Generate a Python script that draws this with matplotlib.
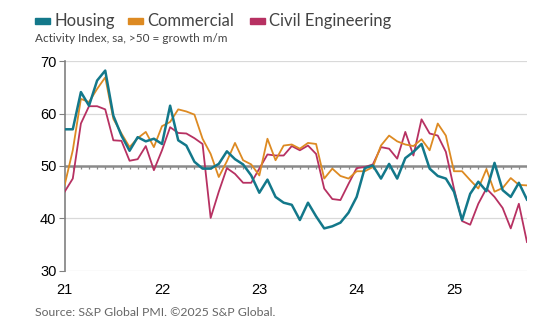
import matplotlib
matplotlib.use("Agg")
import matplotlib.pyplot as plt
from matplotlib.patches import Rectangle
import numpy as np

# monthly readings, Jan 2021 - Oct 2025
housing = [57.0, 57.0, 64.1, 61.5, 66.3, 68.2, 59.6, 55.8, 52.9, 55.5, 54.7, 55.2,
           54.2, 61.5, 54.9, 53.9, 50.8, 49.5, 49.5, 50.4, 52.8, 51.3, 50.3, 48.2,
           44.9, 47.4, 44.1, 43.0, 42.6, 39.7, 43.0, 40.4, 38.1, 38.5, 39.2, 41.1,
           44.1, 49.6, 50.1, 47.6, 50.4, 47.6, 51.5, 52.7, 54.2, 49.5, 48.1, 47.6,
           45.1, 39.7, 44.7, 47.0, 45.2, 50.6, 45.4, 44.1, 46.8, 43.6]
commercial = [46.4, 53.0, 62.8, 62.2, 64.7, 66.9, 59.0, 56.2, 53.6, 55.3, 56.5, 53.6,
              57.6, 58.4, 60.8, 60.4, 59.8, 55.2, 52.3, 47.9, 50.9, 54.4, 51.1, 50.3,
              48.2, 55.2, 51.1, 53.9, 54.1, 53.3, 54.4, 54.2, 47.6, 49.5, 48.1, 47.6,
              49.0, 49.0, 49.8, 53.9, 55.8, 54.7, 54.1, 53.8, 55.1, 53.0, 58.1, 55.8,
              49.0, 49.0, 47.3, 45.7, 49.4, 45.1, 45.8, 47.7, 46.4, 46.3]
civil = [45.1, 47.6, 58.1, 61.4, 61.4, 60.8, 54.9, 54.8, 51.0, 51.3, 53.8, 49.2,
         53.0, 57.4, 56.3, 56.2, 55.3, 54.2, 40.1, 45.1, 49.6, 48.5, 46.8, 46.8,
         49.5, 52.2, 52.0, 52.0, 53.8, 53.0, 53.9, 52.3, 45.7, 43.7, 43.5, 46.6,
         49.6, 49.8, 50.3, 53.6, 53.3, 51.4, 56.5, 52.0, 58.9, 56.2, 55.8, 52.7,
         45.7, 39.5, 38.8, 42.8, 45.7, 44.1, 42.0, 38.1, 42.8, 35.5]
year_labels = ["21", "22", "23", "24", "25"]
series_names = ["Housing", "Commercial", "Civil Engineering"]
colors = ["#13788a", "#dd8a22", "#b73162"]

months = np.arange(len(housing))

fig = plt.figure(figsize=(5.6, 3.34), dpi=100)
ax = fig.add_axes([0.1155, 0.189, 0.8255, 0.628])

ax.plot(months, civil, color=colors[2], lw=1.3, zorder=3)
ax.plot(months, commercial, color=colors[1], lw=1.3, zorder=4)
ax.plot(months, housing, color=colors[0], lw=1.8, zorder=5)

ax.set_xlim(0, months[-1])
ax.set_ylim(30, 70)
ax.set_yticks([30, 40, 50, 60, 70])
ax.set_xticks(np.arange(0, len(months), 12))
ax.set_xticklabels(year_labels)

for y in [30, 40, 60, 70]:
    ax.axhline(y, color="#d9d9d9", lw=0.9, zorder=1)
ax.axhline(50, color="#8a8a8a", lw=1.8, zorder=2)
ax.vlines(months[1:], 49.45, 50, color="#8a8a8a", lw=0.9, zorder=2)

for s in ["top", "right", "bottom"]:
    ax.spines[s].set_visible(False)
ax.spines["left"].set_color("#808080")
ax.spines["left"].set_linewidth(1.2)
ax.tick_params(axis="y", length=4, color="#808080", labelsize=10.5, pad=2,
               labelfontfamily="Liberation Sans")
ax.tick_params(axis="x", length=0, labelsize=10.5, pad=9,
               labelfontfamily="Liberation Sans")

# legend row
leg_x = [35, 128, 250]
for x0, name, c in zip(leg_x, series_names, colors):
    fig.patches.append(Rectangle((x0 / 560, 1 - 24 / 334), 15 / 560, 6 / 334,
                                 transform=fig.transFigure, color=c))
    fig.text((x0 + 19) / 560, 1 - 21 / 334, name, fontsize=12, color="#444444",
             va="center", family="Lato")

fig.text(35 / 560, 1 - 39 / 334, "Activity Index, sa, >50 = growth m/m",
         fontsize=8.5, color="#444444", va="center", family="Lato")
fig.text(35 / 560, 1 - 313 / 334, "Source: S&P Global PMI. \u00a92025 S&P Global.",
         fontsize=8.8, color="#666666", va="center", family="Lato")

fig.savefig("out.png", dpi=100)
